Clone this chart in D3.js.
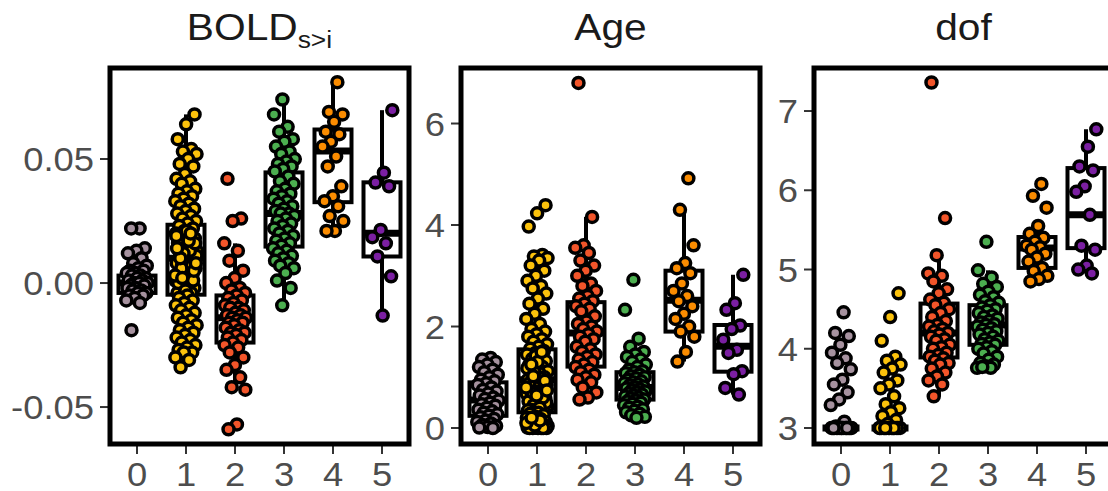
<!doctype html>
<html lang="en">
  <head>
    <meta charset="UTF-8" />
    <title>Cluster box plots</title>
    <script src="https://unpkg.com/d3@7.9.0/dist/d3.min.js"></script>
    <style>
      body {
        margin: 0;
        background: #fff;
        overflow: hidden;
      }
      text {
        font-family: 'Liberation Sans', Arial, sans-serif;
      }
      .title {
        font-size: 37px;
        fill: #1a1a1a;
        text-anchor: middle;
      }
      .tick-label {
        font-size: 34px;
        fill: #4d4d4d;
      }
    </style>
  </head>
  <body>
    <svg width="1108" height="491"></svg>

    <script>
      // cluster labels and colours
      const groups = ['0', '1', '2', '3', '4', '5'];
      const colors = ['#a6929f', '#fcc20c', '#f2552a', '#4caf50', '#fb8c00', '#7b1fa2'];

      // BOLD s>i values per cluster
      const boldG0 = [0.022, 0.022, 0.014, 0.013, 0.012, 0.010, 0.008, 0.007, 0.006, 0.005, 0.005, 0.004, 0.004, 0.003, 0.003, 0.002, 0.002, 0.001, 0.001, 0.000, 0.000, 0.000, -0.001, -0.001, -0.002, -0.002, -0.003, -0.003, -0.004, -0.004, -0.005, -0.005, -0.006, -0.007, -0.008, -0.019];
      const boldG1 = [0.068, 0.064, 0.058, 0.054, 0.053, 0.052, 0.050, 0.048, 0.047, 0.044, 0.042, 0.041, 0.040, 0.038, 0.037, 0.036, 0.035, 0.034, 0.033, 0.032, 0.031, 0.030, 0.029, 0.028, 0.027, 0.026, 0.025, 0.024,
        0.023, 0.022, 0.021, 0.020, 0.019, 0.018, 0.018, 0.017, 0.016, 0.015, 0.014, 0.013, 0.012, 0.011, 0.010, 0.009, 0.008, 0.008, 0.007, 0.006, 0.005, 0.004, 0.003, 0.002, 0.001, 0.000, -0.001, -0.002, -0.003, -0.004, -0.004,
        0.009, 0.011, 0.015, 0.004, 0.001, -0.002, 0.019, 0.013, 0.006, 0.016, 0.021, 0.000, 0.007, 0.012, 0.003, 0.017, 0.010, 0.005, -0.003, 0.014, 0.020, 0.002, 0.008,
        -0.005, -0.006, -0.007, -0.008, -0.009, -0.010, -0.011, -0.012, -0.013, -0.014, -0.015, -0.016, -0.017, -0.018, -0.019, -0.020, -0.021, -0.022, -0.023, -0.024, -0.025, -0.026, -0.027, -0.028, -0.028, -0.030, -0.031, -0.034];
      const boldG2 = [0.042, 0.026, 0.025, 0.016, 0.013, 0.009, 0.005, 0.002, 0.000, -0.002, -0.003, -0.004, -0.005, -0.006, -0.007, -0.008, -0.009, -0.010, -0.010, -0.011, -0.012, -0.013, -0.013, -0.014, -0.014, -0.015, -0.016, -0.016, -0.017, -0.018, -0.019, -0.020, -0.020, -0.021, -0.022, -0.023, -0.024, -0.025, -0.026, -0.028, -0.030, -0.033, -0.035, -0.038, -0.042, -0.043, -0.057, -0.059];
      const boldG3 = [0.074, 0.068, 0.063, 0.061, 0.058, 0.057, 0.055, 0.053, 0.052, 0.050, 0.049, 0.048, 0.047, 0.046, 0.045, 0.043, 0.041, 0.040, 0.038, 0.037, 0.036, 0.035, 0.034, 0.033, 0.032, 0.031, 0.030, 0.029, 0.028, 0.028, 0.027, 0.026, 0.025, 0.024, 0.023, 0.022, 0.021, 0.020, 0.019, 0.018, 0.017, 0.016, 0.015, 0.014, 0.013, 0.012, 0.011, 0.010, 0.009, 0.008, 0.007, 0.006, 0.004, 0.001, -0.002, -0.009];
      const boldG4 = [0.081, 0.069, 0.068, 0.065, 0.061, 0.060, 0.057, 0.055, 0.051, 0.047, 0.039, 0.035, 0.033, 0.031, 0.027, 0.025, 0.021, 0.021];
      const boldG5 = [0.0697, 0.0445, 0.0405, 0.039, 0.0214, 0.0185, 0.016, 0.0107, 0.0027, -0.0131];

      // Age values per cluster
      const ageG0 = [1.38, 1.35, 1.30, 1.25, 1.20, 1.15, 1.10, 1.05, 1.00, 0.95, 0.92, 0.88, 0.85, 0.80, 0.75, 0.72, 0.68, 0.64, 0.60, 0.57, 0.54, 0.50, 0.47, 0.44, 0.40, 0.36, 0.33, 0.30, 0.27, 0.24, 0.21, 0.18, 0.15, 0.12, 0.09, 0.06, 0.04, 0.02, 0.01, 0.00];
      const ageG1 = [4.39, 4.23, 3.97, 3.41, 3.38, 3.35, 3.30, 3.20, 3.10, 3.00, 2.90, 2.80, 2.75, 2.65, 2.55, 2.45, 2.35, 2.25, 2.15, 2.05, 1.95, 1.90, 1.85, 1.80, 1.75, 1.70, 1.65, 1.60, 1.56,
        1.52, 1.48, 1.45, 1.40, 1.36, 1.32, 1.28, 1.24, 1.20, 1.16, 1.12, 1.08, 1.04, 1.00, 0.97, 0.95, 0.92, 0.88, 0.85, 0.82, 0.78, 0.75, 0.72, 0.68, 0.65, 0.62, 0.58, 0.55, 0.52, 0.48, 0.45, 0.42, 0.39, 0.36, 0.33,
        1.42, 1.18, 0.98, 0.70, 0.50, 1.30, 0.88, 0.60, 1.10, 0.80, 0.40, 1.25, 0.93, 0.64, 0.35, 1.50, 1.02, 0.74,
        0.30, 0.28, 0.25, 0.22, 0.20, 0.18, 0.15, 0.12, 0.10, 0.08, 0.06, 0.05, 0.04, 0.03, 0.02, 0.02, 0.01, 0.01, 0.00, 0.00, 0.00, 0.00, 0.00, 0.00, 0.05, 0.10, 0.15, 0.20];
      const ageG2 = [6.80, 4.16, 3.60, 3.55, 3.45, 3.30, 3.20, 3.10, 3.00, 2.85, 2.80, 2.70, 2.60, 2.55, 2.50, 2.45, 2.40, 2.35, 2.30, 2.20, 2.10, 2.05, 2.00, 1.95, 1.90, 1.85, 1.80, 1.75, 1.70, 1.60, 1.55, 1.50, 1.45, 1.40, 1.35, 1.30, 1.25, 1.20, 1.15, 1.10, 1.05, 1.00, 0.95, 0.90, 0.80, 0.70, 0.60, 0.56];
      const ageG3 = [2.92, 2.33, 1.76, 1.60, 1.50, 1.45, 1.40, 1.35, 1.30, 1.25, 1.20, 1.15, 1.12, 1.10, 1.08, 1.05, 1.02, 1.00, 0.98, 0.95, 0.92, 0.90, 0.88, 0.86, 0.84, 0.82, 0.80, 0.78, 0.76, 0.74, 0.72, 0.70, 0.68, 0.66, 0.64, 0.62, 0.60, 0.58, 0.56, 0.54, 0.52, 0.50, 0.48, 0.45, 0.42, 0.40, 0.37, 0.34, 0.31, 0.28, 0.25, 0.22, 0.20];
      const ageG4 = [4.92, 4.30, 3.60, 3.25, 3.15, 3.05, 2.85, 2.70, 2.60, 2.50, 2.40, 2.25, 2.15, 2.00, 1.90, 1.80, 1.50, 1.31];
      const ageG5 = [3.02, 2.46, 2.33, 2.02, 1.95, 1.74, 1.54, 1.48, 1.12, 1.06, 0.79, 0.66];

      // dof values per cluster
      const dofG0 = [4.46, 4.20, 4.16, 4.05, 3.95, 3.88, 3.82, 3.74, 3.61, 3.55, 3.45, 3.36, 3.29, 3.08, 3.02, 3.00, 3.00, 3.00, 3.00, 3.00, 3.00, 3.00, 3.00, 3.00, 3.00, 3.00, 3.00, 3.00, 3.00, 3.00, 3.00, 3.00];
      const dofG1 = [4.70, 4.40, 4.10, 3.90, 3.85, 3.80, 3.75, 3.70, 3.60, 3.55, 3.50, 3.40, 3.30, 3.25, 3.20, 3.15, 3.10, 3.05, 3.00, 3.00, 3.00, 3.00, 3.00, 3.00, 3.00, 3.00, 3.00, 3.00, 3.00, 3.00, 3.00, 3.00, 3.00, 3.00];
      const dofG2 = [7.36, 5.65, 5.18, 4.95, 4.92, 4.85, 4.75, 4.70, 4.62, 4.58, 4.55, 4.50, 4.45, 4.40, 4.35, 4.30, 4.28, 4.25, 4.22, 4.20, 4.18, 4.15, 4.12, 4.10, 4.05, 4.02, 4.00, 3.95, 3.92, 3.90, 3.88, 3.85, 3.82, 3.80, 3.75, 3.70, 3.65, 3.60, 3.55, 3.40];
      const dofG3 = [5.35, 4.99, 4.90, 4.82, 4.78, 4.72, 4.68, 4.65, 4.60, 4.58, 4.55, 4.52, 4.50, 4.48, 4.45, 4.42, 4.40, 4.38, 4.35, 4.33, 4.31, 4.30, 4.28, 4.26, 4.24, 4.22, 4.20, 4.18, 4.15, 4.12, 4.10, 4.08, 4.06, 4.05, 4.02, 4.00, 3.97, 3.94, 3.90, 3.86, 3.82, 3.80, 3.78, 3.76, 3.76, 3.77];
      const dofG4 = [6.08, 5.93, 5.78, 5.55, 5.45, 5.40, 5.35, 5.30, 5.28, 5.25, 5.20, 5.15, 5.10, 5.02, 4.98, 4.92, 4.88, 4.85];
      const dofG5 = [6.77, 6.55, 6.30, 6.25, 6.05, 5.98, 5.69, 5.30, 5.25, 5.05, 5.00, 4.95];

      // box stats per cluster: [q1, median, q3, lower whisker, upper whisker]
      const boldBox = [[-0.004, 0.000, 0.003, -0.008, 0.014], [-0.0047, 0.010, 0.0235, -0.034, 0.068], [-0.024, -0.014, -0.005, -0.043, 0.016], [0.0147, 0.028, 0.0446, -0.009, 0.0737], [0.0326, 0.0532, 0.0619, 0.0214, 0.081], [0.0107, 0.0201, 0.0406, -0.0131, 0.0697]];
      const ageBox = [[0.24, 0.55, 0.90, 0.00, 1.38], [0.31, 0.95, 1.55, 0.00, 3.41], [1.21, 1.87, 2.48, 0.56, 4.16], [0.56, 0.80, 1.10, 0.20, 1.76], [1.90, 2.52, 3.10, 1.31, 4.30], [1.11, 1.61, 2.03, 0.66, 3.02]];
      const dofBox = [[3.00, 3.00, 3.00, 3.00, 3.00], [3.00, 3.00, 3.00, 3.00, 3.00], [3.89, 4.20, 4.57, 3.40, 5.18], [4.05, 4.30, 4.55, 3.76, 4.99], [5.02, 5.27, 5.41, 4.85, 5.55], [5.27, 5.69, 6.28, 4.95, 6.77]];

      // y tick values
      const boldTicks = [-0.05, 0.0, 0.05];
      const ageTicks = [0, 2, 4, 6];
      const dofTicks = [3, 4, 5, 6, 7];

      const panels = [
        { title: 'BOLD', sub: 's>i', values: [boldG0, boldG1, boldG2, boldG3, boldG4, boldG5], box: boldBox, ticks: boldTicks, fmt: (v) => v.toFixed(2), domain: [-0.0649, 0.0867], left: 110 },
        { title: 'Age', sub: null, values: [ageG0, ageG1, ageG2, ageG3, ageG4, ageG5], box: ageBox, ticks: ageTicks, fmt: (v) => String(v), domain: [-0.315, 7.094], left: 461 },
        { title: 'dof', sub: null, values: [dofG0, dofG1, dofG2, dofG3, dofG4, dofG5], box: dofBox, ticks: dofTicks, fmt: (v) => String(v), domain: [2.798, 7.543], left: 814 },
      ];

      const svg = d3.select('svg');
      const panelTop = 68, panelBottom = 444, panelW = 299, pad = 27;
      const boxW = 37, jitterW = 11, r = 5.5;

      panels.forEach((p) => {
        const x = d3.scalePoint().domain(groups).range([p.left + pad, p.left + panelW - pad]);
        const y = d3.scaleLinear().domain(p.domain).range([panelBottom, panelTop]);
        const g = svg.append('g');

        // title
        const t = g.append('g')
          .attr('transform', `translate(${p.left + panelW / 2},40) scale(1.1,1)`)
          .append('text')
          .attr('class', 'title');
        t.append('tspan').text(p.title);
        if (p.sub) {
          t.append('tspan').attr('font-size', 24).attr('dy', 8).text(p.sub);
        }

        // y axis ticks + labels
        p.ticks.forEach((v) => {
          g.append('line')
            .attr('x1', p.left - 10).attr('x2', p.left)
            .attr('y1', y(v)).attr('y2', y(v))
            .attr('stroke', '#333').attr('stroke-width', 2);
          g.append('g')
            .attr('transform', `translate(${p.left - 16},${y(v) + 12}) scale(1.07,1)`)
            .append('text')
            .attr('class', 'tick-label')
            .attr('text-anchor', 'end')
            .text(p.fmt(v));
        });

        // x axis ticks + labels
        groups.forEach((k) => {
          g.append('line')
            .attr('x1', x(k)).attr('x2', x(k))
            .attr('y1', panelBottom).attr('y2', panelBottom + 10)
            .attr('stroke', '#333').attr('stroke-width', 2);
          g.append('g')
            .attr('transform', `translate(${x(k)},486) scale(1.07,1)`)
            .append('text')
            .attr('class', 'tick-label')
            .attr('text-anchor', 'middle')
            .text(k);
        });

        // boxes
        p.box.forEach((b, i) => {
          const cx = x(groups[i]);
          const [q1, med, q3, lo, hi] = b;
          const bg = g.append('g').attr('stroke', '#000').attr('fill', 'none');
          bg.append('line').attr('x1', cx).attr('x2', cx).attr('y1', y(q3)).attr('y2', y(hi)).attr('stroke-width', 4);
          bg.append('line').attr('x1', cx).attr('x2', cx).attr('y1', y(q1)).attr('y2', y(lo)).attr('stroke-width', 4);
          bg.append('rect')
            .attr('x', cx - boxW / 2).attr('width', boxW)
            .attr('y', y(q3)).attr('height', y(q1) - y(q3))
            .attr('fill', '#fff').attr('stroke-width', 4);
          bg.append('line')
            .attr('x1', cx - boxW / 2).attr('x2', cx + boxW / 2)
            .attr('y1', y(med)).attr('y2', y(med))
            .attr('stroke-width', 7);
        });

        // jittered points (deterministic golden-ratio offsets)
        p.values.forEach((vals, i) => {
          const cx = x(groups[i]);
          g.append('g')
            .selectAll('circle')
            .data(vals)
            .join('circle')
            .attr('cx', (d, j) => cx + ((((j + 1) * 0.618034 + i * 0.27) % 1) - 0.5) * 2 * jitterW)
            .attr('cy', (d) => y(d))
            .attr('r', r)
            .attr('fill', colors[i])
            .attr('stroke', '#000')
            .attr('stroke-width', 3.5);
        });

        // panel frame
        g.append('rect')
          .attr('x', p.left).attr('y', panelTop)
          .attr('width', panelW).attr('height', panelBottom - panelTop)
          .attr('fill', 'none')
          .attr('stroke', '#000')
          .attr('stroke-width', 5);
      });
    </script>
  </body>
</html>
